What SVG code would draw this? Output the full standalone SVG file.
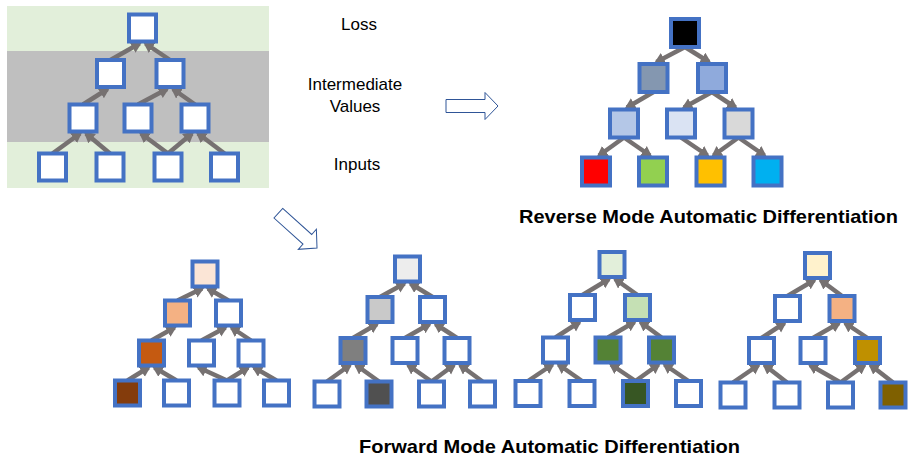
<svg xmlns="http://www.w3.org/2000/svg" width="910" height="458" viewBox="0 0 910 458">
  <style>
    .n { stroke: #4472C4; stroke-width: 4; fill: #FFFFFF; }
    .e { stroke: #767171; stroke-width: 4.5; fill: none; marker-end: url(#ah); }
    .lbl { font-family: "Liberation Sans", Arial, sans-serif; font-size: 17px; fill: #000000; text-anchor: middle; }
    .ttl { font-family: "Liberation Sans", Arial, sans-serif; font-size: 19px; font-weight: bold; fill: #000000; }
    .big { fill: #FFFFFF; stroke: #2F5597; stroke-width: 1; }
  </style>
  <defs>
    <marker id="ah" markerUnits="userSpaceOnUse" markerWidth="14" markerHeight="14" refX="8" refY="6" orient="auto">
      <path d="M0,0 L11,6 L0,12 Z" fill="#767171"/>
    </marker>
    <path id="bigArrow" d="M-52,-6.5 H-13 V-13.5 L0,0 L-13,13.5 V6.5 H-52 Z"/>
  </defs>

  <rect width="910" height="458" fill="#FFFFFF"/>

  <!-- layer bands behind the computation graph -->
  <g id="bands">
    <rect x="7" y="6" width="262" height="182" fill="#E2EFDA"/>
    <rect x="7" y="51" width="262" height="91" fill="#BFBFBF"/>
  </g>

  <!-- layer labels -->
  <g id="labels">
    <text class="lbl" x="359" y="30">Loss</text>
    <text class="lbl" x="355" y="90">Intermediate</text>
    <text class="lbl" x="355" y="112">Values</text>
    <text class="lbl" x="357" y="170">Inputs</text>
  </g>

  <!-- hollow block arrows -->
  <g id="block-arrows">
    <use href="#bigArrow" class="big" transform="translate(498,106)"/>
    <use href="#bigArrow" class="big" transform="translate(317,248) rotate(42)"/>
  </g>

  <g id="connectors">
    <!-- graph -->
    <path class="e" d="M110.5,60 L139.5,43.5"/>
    <path class="e" d="M170,60 L145.5,43.5"/>
    <path class="e" d="M83,104.5 L107.5,89"/>
    <path class="e" d="M138,104.5 L167,89"/>
    <path class="e" d="M195,104.5 L173,89"/>
    <path class="e" d="M52.5,153.5 L80,133.5"/>
    <path class="e" d="M110,153.5 L86,133.5"/>
    <path class="e" d="M168,153.5 L141,133.5"/>
    <path class="e" d="M168,153.5 L192,133.5"/>
    <path class="e" d="M224.5,153.5 L198,133.5"/>
    <!-- reverse mode -->
    <path class="e" d="M685,47 L656.5,62"/>
    <path class="e" d="M685,47 L709,62"/>
    <path class="e" d="M653.5,92 L627,107.5"/>
    <path class="e" d="M712,92 L684,107.5"/>
    <path class="e" d="M712,92 L735.5,107.5"/>
    <path class="e" d="M624,137.5 L599,155.5"/>
    <path class="e" d="M624,137.5 L650,155.5"/>
    <path class="e" d="M681,137.5 L707.5,155.5"/>
    <path class="e" d="M738.5,137.5 L713.5,155.5"/>
    <path class="e" d="M738.5,137.5 L764.5,155.5"/>
    <!-- forward mode, tree 1 -->
    <path class="e" d="M177.5,300.5 L202,288.5"/>
    <path class="e" d="M228.5,300.5 L208,288.5"/>
    <path class="e" d="M151.5,340.5 L174.5,327.5"/>
    <path class="e" d="M201.5,340.5 L225.5,327.5"/>
    <path class="e" d="M251,340.5 L231.5,327.5"/>
    <path class="e" d="M127.5,380.5 L148.5,367.5"/>
    <path class="e" d="M176.5,380.5 L154.5,367.5"/>
    <path class="e" d="M227,380.5 L198.5,367.5"/>
    <path class="e" d="M227,380.5 L248,367.5"/>
    <path class="e" d="M276.5,380.5 L254,367.5"/>
    <!-- forward mode, tree 2 -->
    <path class="e" d="M380,297 L404.5,283.5"/>
    <path class="e" d="M432.5,297 L410.5,283.5"/>
    <path class="e" d="M353,338 L377,324"/>
    <path class="e" d="M405,338 L429.5,324"/>
    <path class="e" d="M457,338 L435.5,324"/>
    <path class="e" d="M327,381.5 L350,365"/>
    <path class="e" d="M379,381.5 L356,365"/>
    <path class="e" d="M431.5,381.5 L408,365"/>
    <path class="e" d="M431.5,381.5 L454,365"/>
    <path class="e" d="M482.5,381.5 L460,365"/>
    <!-- forward mode, tree 3 -->
    <path class="e" d="M582.5,295 L609,279"/>
    <path class="e" d="M637.5,295 L615,279"/>
    <path class="e" d="M555.5,337.5 L579.5,322"/>
    <path class="e" d="M608,337.5 L634.5,322"/>
    <path class="e" d="M661.5,337.5 L640.5,322"/>
    <path class="e" d="M528,381 L552.5,364.5"/>
    <path class="e" d="M582,381 L558.5,364.5"/>
    <path class="e" d="M635.5,381 L611,364.5"/>
    <path class="e" d="M635.5,381 L658.5,364.5"/>
    <path class="e" d="M688.5,381 L664.5,364.5"/>
    <!-- forward mode, tree 4 -->
    <path class="e" d="M787.5,296 L814.5,280"/>
    <path class="e" d="M842,296 L820.5,280"/>
    <path class="e" d="M761.5,338 L784.5,323"/>
    <path class="e" d="M813,338 L839,323"/>
    <path class="e" d="M867.5,338 L845,323"/>
    <path class="e" d="M733,382.5 L758.5,365"/>
    <path class="e" d="M787,382.5 L764.5,365"/>
    <path class="e" d="M840.5,382.5 L810,365"/>
    <path class="e" d="M840.5,382.5 L864.5,365"/>
    <path class="e" d="M893,382.5 L870.5,365"/>
  </g>

  <!-- graph nodes (outer size 31) -->
  <g id="graph">
    <g id="g-root"><rect class="n" x="129" y="14.5" width="27" height="27"/></g>
    <g id="g-v1"><rect class="n" x="97" y="60" width="27" height="27"/></g>
    <g id="g-v2"><rect class="n" x="156.5" y="60" width="27" height="27"/></g>
    <g id="g-v3"><rect class="n" x="69.5" y="104.5" width="27" height="27"/></g>
    <g id="g-v4"><rect class="n" x="124.5" y="104.5" width="27" height="27"/></g>
    <g id="g-v5"><rect class="n" x="181.5" y="104.5" width="27" height="27"/></g>
    <g id="g-x1"><rect class="n" x="39" y="153.5" width="27" height="27"/></g>
    <g id="g-x2"><rect class="n" x="96.5" y="153.5" width="27" height="27"/></g>
    <g id="g-x3"><rect class="n" x="154.5" y="153.5" width="27" height="27"/></g>
    <g id="g-x4"><rect class="n" x="211" y="153.5" width="27" height="27"/></g>
  </g>

  <!-- reverse mode nodes (outer size 32) -->
  <g id="reverse">
    <g id="r-root"><rect class="n" x="671" y="19" width="28" height="28" style="fill:#000000"/></g>
    <g id="r-v1"><rect class="n" x="639.5" y="64" width="28" height="28" style="fill:#8497B0"/></g>
    <g id="r-v2"><rect class="n" x="698" y="64" width="28" height="28" style="fill:#8FAADC"/></g>
    <g id="r-v3"><rect class="n" x="610" y="109.5" width="28" height="28" style="fill:#B4C7E7"/></g>
    <g id="r-v4"><rect class="n" x="667" y="109.5" width="28" height="28" style="fill:#DAE3F3"/></g>
    <g id="r-v5"><rect class="n" x="724.5" y="109.5" width="28" height="28" style="fill:#D9D9D9"/></g>
    <g id="r-x1"><rect class="n" x="582" y="157.5" width="28" height="28" style="fill:#FF0000"/></g>
    <g id="r-x2"><rect class="n" x="639" y="157.5" width="28" height="28" style="fill:#92D050"/></g>
    <g id="r-x3"><rect class="n" x="696.5" y="157.5" width="28" height="28" style="fill:#FFC000"/></g>
    <g id="r-x4"><rect class="n" x="753.5" y="157.5" width="28" height="28" style="fill:#00B0F0"/></g>
  </g>

  <!-- forward mode, tree 1 (outer size 29) -->
  <g id="fwd1">
    <g id="f1-root"><rect class="n" x="192.5" y="261.5" width="25" height="25" style="fill:#FBE5D6"/></g>
    <g id="f1-v1"><rect class="n" x="165" y="300.5" width="25" height="25" style="fill:#F4B183"/></g>
    <g id="f1-v2"><rect class="n" x="216" y="300.5" width="25" height="25"/></g>
    <g id="f1-v3"><rect class="n" x="139" y="340.5" width="25" height="25" style="fill:#C55A11"/></g>
    <g id="f1-v4"><rect class="n" x="189" y="340.5" width="25" height="25"/></g>
    <g id="f1-v5"><rect class="n" x="238.5" y="340.5" width="25" height="25"/></g>
    <g id="f1-x1"><rect class="n" x="115" y="380.5" width="25" height="25" style="fill:#843C0C"/></g>
    <g id="f1-x2"><rect class="n" x="164" y="380.5" width="25" height="25"/></g>
    <g id="f1-x3"><rect class="n" x="214.5" y="380.5" width="25" height="25"/></g>
    <g id="f1-x4"><rect class="n" x="264" y="380.5" width="25" height="25"/></g>
  </g>

  <!-- forward mode, tree 2 -->
  <g id="fwd2">
    <g id="f2-root"><rect class="n" x="395" y="256.5" width="25" height="25" style="fill:#EDEDED"/></g>
    <g id="f2-v1"><rect class="n" x="367.5" y="297" width="25" height="25" style="fill:#C9C9C9"/></g>
    <g id="f2-v2"><rect class="n" x="420" y="297" width="25" height="25"/></g>
    <g id="f2-v3"><rect class="n" x="340.5" y="338" width="25" height="25" style="fill:#7F7F7F"/></g>
    <g id="f2-v4"><rect class="n" x="392.5" y="338" width="25" height="25"/></g>
    <g id="f2-v5"><rect class="n" x="444.5" y="338" width="25" height="25"/></g>
    <g id="f2-x1"><rect class="n" x="314.5" y="381.5" width="25" height="25"/></g>
    <g id="f2-x2"><rect class="n" x="366.5" y="381.5" width="25" height="25" style="fill:#505050"/></g>
    <g id="f2-x3"><rect class="n" x="419" y="381.5" width="25" height="25"/></g>
    <g id="f2-x4"><rect class="n" x="470" y="381.5" width="25" height="25"/></g>
  </g>

  <!-- forward mode, tree 3 -->
  <g id="fwd3">
    <g id="f3-root"><rect class="n" x="599.5" y="252" width="25" height="25" style="fill:#E2EFDA"/></g>
    <g id="f3-v1"><rect class="n" x="570" y="295" width="25" height="25"/></g>
    <g id="f3-v2"><rect class="n" x="625" y="295" width="25" height="25" style="fill:#C5E0B4"/></g>
    <g id="f3-v3"><rect class="n" x="543" y="337.5" width="25" height="25"/></g>
    <g id="f3-v4"><rect class="n" x="595.5" y="337.5" width="25" height="25" style="fill:#548235"/></g>
    <g id="f3-v5"><rect class="n" x="649" y="337.5" width="25" height="25" style="fill:#548235"/></g>
    <g id="f3-x1"><rect class="n" x="515.5" y="381" width="25" height="25"/></g>
    <g id="f3-x2"><rect class="n" x="569.5" y="381" width="25" height="25"/></g>
    <g id="f3-x3"><rect class="n" x="623" y="381" width="25" height="25" style="fill:#375623"/></g>
    <g id="f3-x4"><rect class="n" x="676" y="381" width="25" height="25"/></g>
  </g>

  <!-- forward mode, tree 4 -->
  <g id="fwd4">
    <g id="f4-root"><rect class="n" x="805" y="253" width="25" height="25" style="fill:#FFF2CC"/></g>
    <g id="f4-v1"><rect class="n" x="775" y="296" width="25" height="25"/></g>
    <g id="f4-v2"><rect class="n" x="829.5" y="296" width="25" height="25" style="fill:#F4B183"/></g>
    <g id="f4-v3"><rect class="n" x="749" y="338" width="25" height="25"/></g>
    <g id="f4-v4"><rect class="n" x="800.5" y="338" width="25" height="25"/></g>
    <g id="f4-v5"><rect class="n" x="855" y="338" width="25" height="25" style="fill:#BF9000"/></g>
    <g id="f4-x1"><rect class="n" x="720.5" y="382.5" width="25" height="25"/></g>
    <g id="f4-x2"><rect class="n" x="774.5" y="382.5" width="25" height="25"/></g>
    <g id="f4-x3"><rect class="n" x="828" y="382.5" width="25" height="25"/></g>
    <g id="f4-x4"><rect class="n" x="880.5" y="382.5" width="25" height="25" style="fill:#7F6000"/></g>
  </g>

  <!-- titles -->
  <g id="titles">
    <text class="ttl" x="519" y="223" textLength="379" lengthAdjust="spacingAndGlyphs">Reverse Mode Automatic Differentiation</text>
    <text class="ttl" x="359" y="453" textLength="381" lengthAdjust="spacingAndGlyphs">Forward Mode Automatic Differentiation</text>
  </g>
</svg>
